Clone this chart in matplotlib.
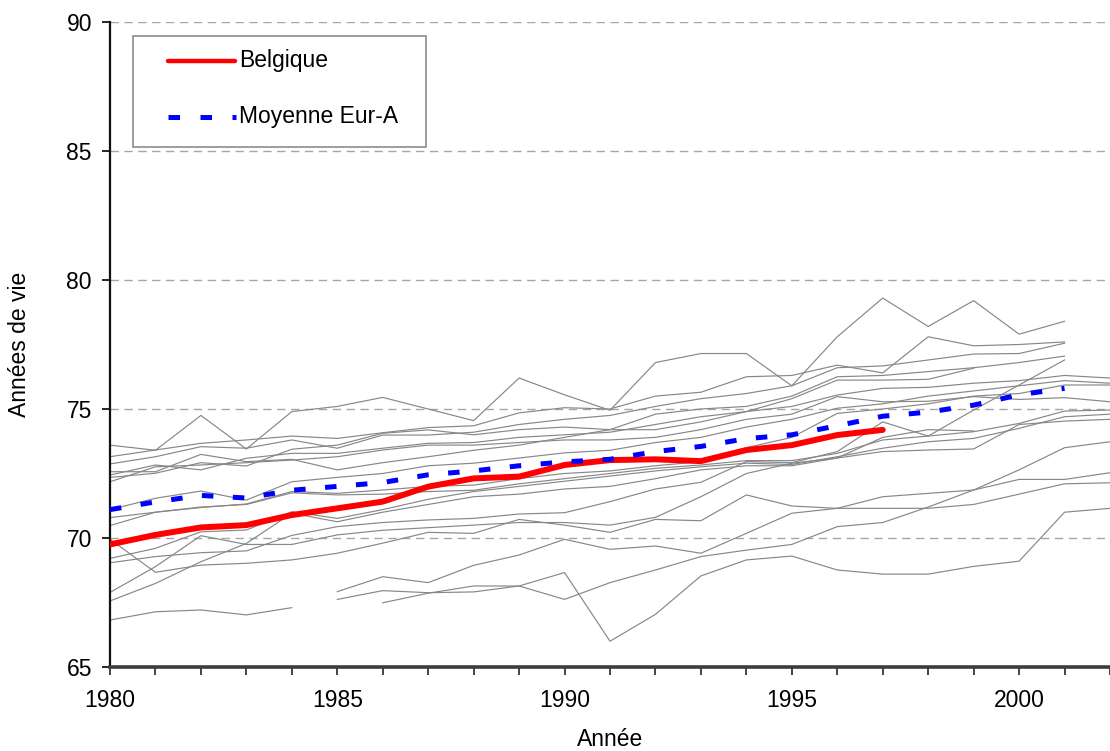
import numpy as np
import matplotlib.pyplot as plt
from matplotlib.patches import Rectangle

plt.rcParams['font.family'] = ['Liberation Sans', 'DejaVu Sans']

na = np.nan
years = list(range(1980, 2003))

# Belgique and Eur-A average
belgique = [69.75, 70.12, 70.41, 70.5, 70.89, 71.15, 71.41, 71.99, 72.31, 72.38, 72.83, 73.02,
            73.05, 72.98, 73.41, 73.6, 73.99, 74.19, na, na, na, na, na]
moyenne_eur_a = [71.1, 71.4, 71.65, 71.55, 71.85, 72.0, 72.15, 72.45, 72.6, 72.8, 72.95, 73.05,
                 73.35, 73.55, 73.85, 74.0, 74.35, 74.72, 74.88, 75.15, 75.55, 75.8, na]

# the other Eur-A countries (grey lines)
autres_pays = [
    [73.6, 73.4, 74.75, 73.45, 74.9, 75.1, 75.45, 75.0, 74.55, 76.2, 75.55, 74.95,
     76.8, 77.15, 77.15, 75.9, 77.8, 79.3, 78.2, 79.2, 77.9, 78.4, na],
    [73.15, 73.41, 73.67, 73.8, 73.95, 73.86, 74.08, 74.28, 74.35, 74.85, 75.05, 75.0,
     75.5, 75.65, 76.25, 76.3, 76.7, 76.4, 77.8, 77.45, 77.5, 77.6, na],
    [72.87, 73.15, 73.54, 73.48, 73.8, 73.48, 73.99, 73.99, 74.1, 74.4, 74.6, 74.75,
     75.1, 75.4, 75.6, 75.9, 76.6, 76.67, 76.9, 77.13, 77.15, 77.55, na],
    [72.57, 72.57, 73.24, 72.96, 73.05, 72.64, 72.92, 73.15, 73.4, 73.6, 73.9, 74.2,
     74.8, 75.0, 75.1, 75.5, 76.25, 76.3, 76.45, 76.6, 76.8, 77.05, na],
    [72.44, 72.83, 72.64, 73.09, 73.28, 73.28, 73.48, 73.67, 73.7, 73.9, 74.0, 74.1,
     74.4, 74.7, 74.9, 75.4, 76.12, 76.12, 76.15, 76.58, na, na, na],
    [72.35, 72.51, 72.92, 72.79, 73.44, 73.6, 74.06, 74.19, 74.0, 74.2, 74.3, 74.2,
     74.2, 74.5, 74.9, 75.1, 75.54, 75.8, 75.84, 76.0, 76.1, 76.3, 76.2],
    [72.18, 72.76, 72.83, 72.92, 73.02, 73.15, 73.41, 73.6, 73.6, 73.7, 73.8, 73.8,
     73.9, 74.2, 74.6, 74.8, 75.48, 75.28, 75.3, 75.48, 75.37, 75.44, 75.28],
    [71.1, 71.54, 71.82, 71.47, 72.18, 72.35, 72.5, 72.8, 72.9, 73.1, 73.3, 73.4,
     73.7, 73.9, 74.3, 74.6, 75.03, 75.2, 75.5, 75.7, 75.9, 76.1, 76.0],
    [69.04, 69.28, 69.43, 69.5, 70.1, 70.44, 70.6, 70.7, 70.76, 70.93, 70.98, 71.41,
     71.9, 72.16, 72.96, 72.92, 73.35, 74.5, 73.95, 74.96, 75.93, 76.9, na],
    [70.79, 71.0, 71.18, 71.32, 71.8, 71.73, 71.86, 72.0, 72.05, 72.3, 72.5, 72.6,
     72.8, 72.96, 73.5, 73.9, 74.83, 75.0, 75.2, 75.5, 75.6, 75.93, 75.93],
    [70.48, 71.0, 71.2, 71.3, 71.75, 71.67, 71.7, 71.8, 71.85, 72.1, 72.3, 72.5,
     72.7, 72.83, 73.0, 73.0, 73.28, 73.8, 73.95, 74.12, 74.44, 74.92, 74.96],
    [69.21, 69.6, 70.24, 70.31, 71.02, 70.76, 71.1, 71.5, 71.8, 72.0, 72.2, 72.4,
     72.6, 72.76, 72.9, 72.85, 73.15, 73.48, 73.73, 73.86, 74.25, 74.7, 74.8],
    [67.56, 68.24, 69.08, 69.79, 70.96, 70.63, 71.0, 71.3, 71.6, 71.7, 71.9, 72.0,
     72.3, 72.64, 72.8, 72.8, 73.1, 73.35, 73.41, 73.45, 74.4, 74.53, 74.6],
    [67.89, 68.89, 70.09, 69.75, 69.75, 70.12, 70.3, 70.4, 70.5, 70.6, 70.6, 70.5,
     70.8, 71.6, 72.5, 72.9, 73.1, 73.9, 74.2, 74.15, na, na, na],
    [69.95, 68.67, 68.95, 69.02, 69.15, 69.41, 69.8, 70.22, 70.18, 70.72, 70.5, 70.22,
     70.72, 70.67, 71.67, 71.24, 71.15, 71.6, 71.73, 71.86, 72.27, 72.27, 72.53],
    [66.82, 67.14, 67.21, 67.02, 67.3, na, na, na, na, na, na, na,
     na, na, na, na, na, na, na, na, na, na, na],
    [na, na, na, na, na, 67.92, 68.5, 68.27, 68.94, 69.34, 69.95, 69.56,
     69.69, 69.41, 70.18, 70.96, 71.15, 71.15, 71.15, 71.3, 71.7, 72.1, 72.14],
    [na, na, na, na, na, 67.62, 67.96, 67.88, 67.91, 68.14, 68.66, 66.0,
     67.04, 68.53, 69.15, 69.3, 68.76, 68.6, 68.6, 68.9, 69.1, 71.0, 71.15],
    [na, na, na, na, na, na, 67.49, 67.86, 68.14, 68.14, 67.62, 68.27,
     68.76, 69.28, 69.53, 69.75, 70.44, 70.6, 71.2, 71.86, 72.64, 73.5, 73.73],
]

y_ticks = [65, 70, 75, 80, 85, 90]
x_ticks = [1980, 1985, 1990, 1995, 2000]

FS = 16.5
RED_STYLE = dict(color='#ff0000', linewidth=4.3, solid_capstyle='round')
BLUE_STYLE = dict(color='#0000ff', linewidth=3.6, linestyle=(0, (2.3, 3.9)), dash_capstyle='butt')


def plot_chart(output_plot):
    fig = plt.figure(figsize=(11.1, 7.51), dpi=100)
    ax = fig.add_axes([110 / 1110, 84 / 751, 1000 / 1110, 645 / 751])

    for serie in autres_pays:
        ax.plot(years, serie, color='#878787', linewidth=0.85, zorder=2)

    ax.plot(years, belgique, zorder=3, **RED_STYLE)
    ax.plot(years, moyenne_eur_a, zorder=4, **BLUE_STYLE)

    ax.set_xlim(1980, 2001.74)
    ax.set_ylim(65, 90)

    # dashed horizontal gridlines like the Excel original
    for v in y_ticks[1:]:
        ax.axhline(v, color='#a6a6a6', linewidth=1.0, linestyle=(0, (6, 4)), zorder=1)

    ax.set_yticks(y_ticks)
    ax.set_xticks(x_ticks)
    ax.set_xticks(years, minor=True)
    ax.tick_params(axis='y', direction='out', length=6, width=1.2, pad=7, labelsize=FS)
    ax.tick_params(axis='x', which='both', direction='out', length=6, width=1.2,
                   pad=10, labelsize=FS, colors='#222222', labelcolor='black')

    for side in ['top', 'right']:
        ax.spines[side].set_visible(False)
    ax.spines['left'].set_linewidth(1.6)
    ax.spines['left'].set_color('#111111')
    ax.spines['bottom'].set_linewidth(2.6)
    ax.spines['bottom'].set_color('#3c3c3c')
    ax.spines['bottom'].set_zorder(5)

    # axis titles placed where the original has them
    fig.text(610 / 1110, 1 - 739 / 751, 'Année', fontsize=FS, ha='center', va='center')
    fig.text(20 / 1110, 1 - 344 / 751, 'Années de vie', fontsize=FS, ha='center',
             va='center', rotation=90)

    # legend box drawn in axes fractions (pixel positions of the original)
    def fx(px):
        return (px - 110) / 1000

    def fy(py):
        return (667 - py) / 645

    ax.add_patch(Rectangle((fx(133), fy(147)), fx(426) - fx(133), fy(36) - fy(147),
                           transform=ax.transAxes, facecolor='white', edgecolor='#8c8c8c',
                           linewidth=1.2, zorder=6))
    ax.plot([fx(168), fx(235)], [fy(61), fy(61)], transform=ax.transAxes, zorder=7,
            color='#ff0000', linewidth=3.2, solid_capstyle='round')
    ax.text(fx(239), fy(61), 'Belgique', transform=ax.transAxes, fontsize=FS,
            ha='left', va='center', zorder=7)
    ax.plot([fx(168), fx(236)], [fy(117), fy(117)], transform=ax.transAxes, zorder=7,
            color='#0000ff', linewidth=3.6, linestyle=(0, (2.3, 4.1)), dash_capstyle='butt')
    ax.text(fx(239), fy(117), 'Moyenne Eur-A', transform=ax.transAxes, fontsize=FS,
            ha='left', va='center', zorder=7)

    fig.savefig(output_plot, dpi=100)
    print(f"saved {output_plot}")


if __name__ == "__main__":
    plot_chart("out.png")
